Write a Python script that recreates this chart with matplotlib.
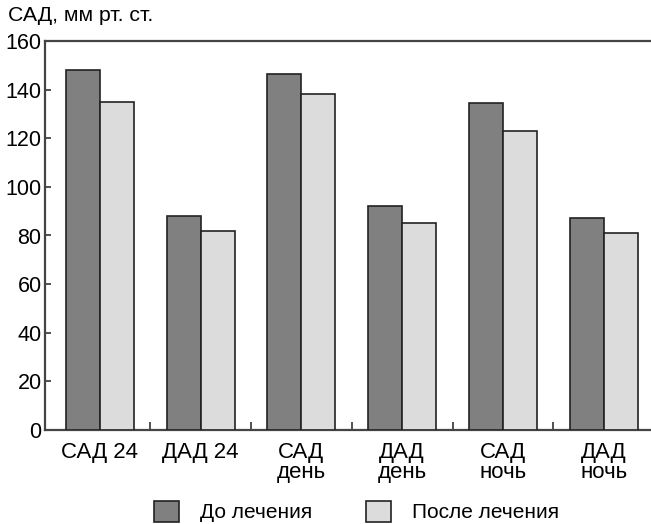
import numpy as np
import matplotlib
matplotlib.use("Agg")
from matplotlib import pyplot as plt
from matplotlib.patches import Patch

# values
categories = ["САД 24", "ДАД 24", "САД\nдень", "ДАД\nдень", "САД\nночь", "ДАД\nночь"]
before = [148, 88, 146.5, 92, 134.5, 87]
after = [135, 82, 138, 85, 123, 81]
series_names = ["До лечения", "После лечения"]
y_ticks = [0, 20, 40, 60, 80, 100, 120, 140, 160]

plt.rcParams['font.family'] = ['Liberation Sans', 'DejaVu Sans']

fig = plt.figure(figsize=(6.51, 5.24), dpi=100)
ax = fig.add_axes([45 / 651, 94 / 524, 1 - 45 / 651, 389 / 524])

x = np.arange(len(categories))
w = 0.338
edge = "#222222"
ax.bar(x - w / 2, before, w, color="#808080", edgecolor=edge, linewidth=1.2, zorder=3)
ax.bar(x + w / 2, after, w, color="#dcdcdc", edgecolor=edge, linewidth=1.2, zorder=3)

ax.set_xlim(-0.545, 5.47)
ax.set_ylim(0, 160)
ax.set_yticks(y_ticks)
ax.tick_params(axis="y", labelsize=15.5, direction="in", length=4.5, width=1.2,
               pad=2.5, color="#333333")

ax.set_xticks(x)
ax.set_xticklabels(categories, fontsize=16, linespacing=0.95)
ax.tick_params(axis="x", which="major", length=0, pad=8.5)
ax.set_xticks(x[:-1] + 0.5, minor=True)
ax.tick_params(axis="x", which="minor", direction="in", length=6, width=1.2, color="#333333")

for side in ["left", "bottom", "top"]:
    ax.spines[side].set_color("#444444")
    ax.spines[side].set_linewidth(1.6)
ax.spines["right"].set_visible(False)

fig.text(0.012, 0.988, "САД, мм рт. ст.", fontsize=15.3, va="top", ha="left")

handles = [Patch(facecolor="#808080", edgecolor=edge, linewidth=1.2),
           Patch(facecolor="#dcdcdc", edgecolor=edge, linewidth=1.2)]
fig.legend(handles, series_names, loc="center", bbox_to_anchor=(0.548, 0.024),
           ncol=2, frameon=False, fontsize=15, handlelength=1.2, handleheight=1.2,
           handletextpad=1.0, columnspacing=2.6, borderpad=0)

fig.savefig("out.png", dpi=100)
